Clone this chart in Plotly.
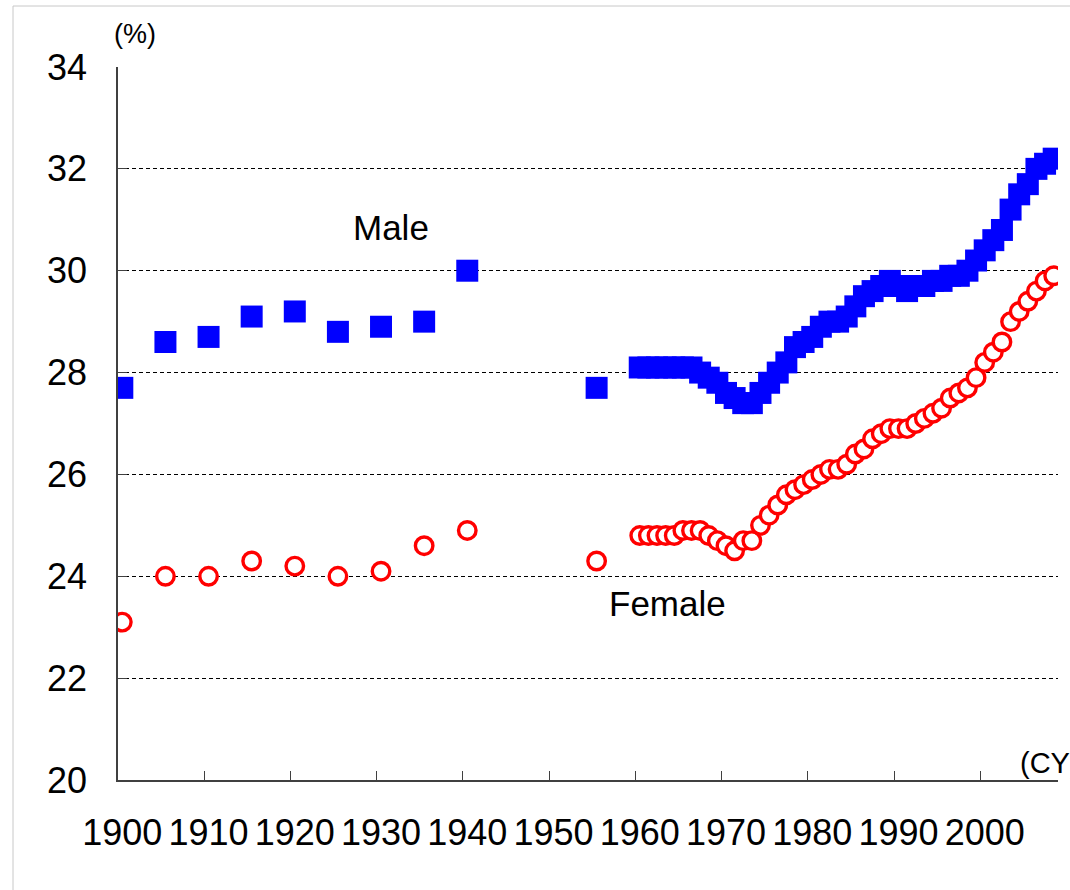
import plotly.graph_objects as go

# ---- data ----
early_years = [1900, 1905, 1910, 1915, 1920, 1925, 1930, 1935, 1940, 1955]
male_early = [27.7, 28.6, 28.7, 29.1, 29.2, 28.8, 28.9, 29.0, 30.0, 27.7]
female_early = [23.1, 24.0, 24.0, 24.3, 24.2, 24.0, 24.1, 24.6, 24.9, 24.3]

annual_years = list(range(1960, 2009))
male_annual = [28.1, 28.1, 28.1, 28.1, 28.1, 28.1, 28.1, 28.0, 27.9, 27.8,
               27.6, 27.5, 27.4, 27.4, 27.6, 27.8, 28.0, 28.2, 28.5, 28.6,
               28.7, 28.9, 29.0, 29.0, 29.1, 29.3, 29.5, 29.6, 29.7, 29.8,
               29.7, 29.6, 29.7, 29.7, 29.8, 29.8, 29.9, 29.9, 30.0, 30.2,
               30.4, 30.6, 30.8, 31.2, 31.5, 31.7, 32.0, 32.1, 32.2]
female_annual = [24.8, 24.8, 24.8, 24.8, 24.8, 24.9, 24.9, 24.9, 24.8, 24.7,
                 24.6, 24.5, 24.7, 24.7, 25.0, 25.2, 25.4, 25.6, 25.7, 25.8,
                 25.9, 26.0, 26.1, 26.1, 26.2, 26.4, 26.5, 26.7, 26.8, 26.9,
                 26.9, 26.9, 27.0, 27.1, 27.2, 27.3, 27.5, 27.6, 27.7, 27.9,
                 28.2, 28.4, 28.6, 29.0, 29.2, 29.4, 29.6, 29.8, 29.9]

years = early_years + annual_years
male = male_early + male_annual
female = female_early + female_annual

x_tick_labels = [str(y) for y in range(1900, 2001, 10)]
y_tick_vals = [20, 22, 24, 26, 28, 30, 32, 34]

FONT = "Liberation Sans, Arial, sans-serif"

# ---- layout geometry (pixels) ----
W, H = 1070, 890
L, R, T, B = 118, 1058, 67, 780


def px(x):
    return (x - L) / (R - L)


def py(y):
    return (B - y) / (B - T)


fig = go.Figure()
fig.add_trace(go.Scatter(
    x=years, y=male, mode="markers", name="Male",
    marker=dict(symbol="square", size=22, color="#0000FF",
                line=dict(width=0)),
))
fig.add_trace(go.Scatter(
    x=years, y=female, mode="markers", name="Female",
    marker=dict(symbol="circle", size=17.5, color="white",
                line=dict(width=3.4, color="#FF0000")),
))


def label(text, x, y, size, xanchor="center"):
    return dict(text=text, x=px(x), y=py(y), xref="paper", yref="paper",
                xanchor=xanchor, yanchor="middle", showarrow=False,
                font=dict(size=size, family=FONT, color="black"))


fig.update_layout(
    width=W, height=H,
    margin=dict(l=L, r=W - R, t=T, b=H - B),
    paper_bgcolor="white", plot_bgcolor="white",
    showlegend=False,
    font=dict(family=FONT, color="black"),
    xaxis=dict(
        range=[1899.5, 2008.5],
        tickmode="array",
        tickvals=[int(t) for t in x_tick_labels],
        ticktext=x_tick_labels,
        ticks="",
        showgrid=False, zeroline=False,
        showline=True, linecolor="#404040", linewidth=1.5,
        tickfont=dict(size=36, family=FONT, color="black"),
        ticklabelstandoff=20,
        minor=dict(
            tickmode="array",
            tickvals=[int(t) - 0.5 for t in x_tick_labels[1:]],
            ticks="inside", ticklen=9, tickcolor="#404040", tickwidth=1,
            showgrid=False,
        ),
    ),
    yaxis=dict(
        range=[20, 34],
        tickmode="array",
        tickvals=y_tick_vals,
        ticktext=[str(v) for v in y_tick_vals],
        ticks="inside", ticklen=9, tickcolor="#404040", tickwidth=1,
        showgrid=True, gridcolor="#000000", gridwidth=1, griddash="4px,3px",
        zeroline=False,
        showline=True, linecolor="#404040", linewidth=1.5,
        tickfont=dict(size=36, family=FONT, color="black"),
        ticklabelstandoff=22,
    ),
    annotations=[
        label("Male", 391, 227, 35),
        label("Female", 667, 603, 35),
        label("(%)", 135, 34, 27),
        label("(CY)", 1018, 763, 29, xanchor="left"),
    ],
    shapes=[
        dict(type="line", xref="paper", yref="paper",
             x0=px(13), x1=px(1075), y0=py(6), y1=py(6),
             line=dict(color="#c8c8c8", width=1)),
        dict(type="line", xref="paper", yref="paper",
             x0=px(13), x1=px(13), y0=py(6), y1=py(895),
             line=dict(color="#c8c8c8", width=1)),
    ],
)

fig.write_html(
    "out.html",
    config={"displayModeBar": False},
    post_script="document.body.style.margin='0';document.body.style.overflow='hidden';",
)
